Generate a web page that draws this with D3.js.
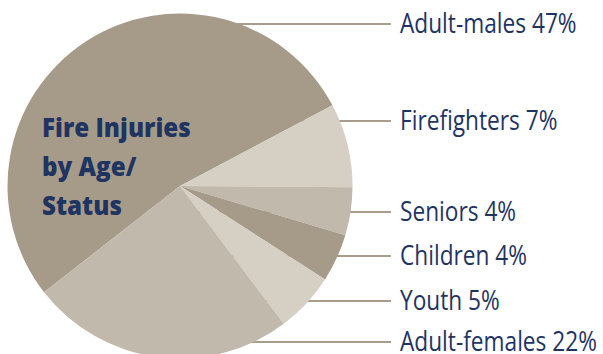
<!DOCTYPE html>
<html>
<head>
<meta charset="utf-8">
<script src="https://cdn.jsdelivr.net/npm/d3@7"></script>
<style>
  html, body { margin: 0; padding: 0; background: #ffffff; }
  svg { display: block; }
</style>
</head>
<body>
<svg id="chart" width="603" height="354"></svg>
<script>
// Fire injuries by age / status (percent of total)
const categories = ["Adult-males", "Firefighters", "Seniors", "Children", "Youth", "Adult-females"];
const shares = [47, 7, 4, 4, 5, 22];
const titleLines = ["Fire Injuries", "by Age/", "Status"];

// Layout
const W = 603, H = 354;
const cx = 180, cy = 186, radius = 172.5;
const labelRows = [24, 121, 212, 256, 301, 342]; // y of each leader line
const lineEndX = 391, labelX = 400;
const condense = 0.84;      // horizontal squeeze for the narrow label face
const titleCondense = 0.93;
const textColor = "#1f3461";
const lineColor = "#a89d8b";
const sliceColors = ["#a69b89", "#d5cfc4", "#c1b9ab", "#a69b89", "#d5cfc4", "#c1b9ab"];

const svg = d3.select("#chart");

const rows = categories.map((c, i) => ({ name: c, value: shares[i], y: labelRows[i], color: sliceColors[i] }));

// Leader lines run from the centre out to the labels; the pie covers the inner part
svg.append("g")
  .selectAll("line")
  .data(rows)
  .join("line")
  .attr("x1", cx)
  .attr("x2", lineEndX)
  .attr("y1", d => d.y)
  .attr("y2", d => d.y)
  .attr("stroke", lineColor)
  .attr("stroke-width", 2);

// Pie
const start = -128 * Math.PI / 180;
const pie = d3.pie()
  .value(d => d.value)
  .sort(null)
  .startAngle(start)
  .endAngle(start + 2 * Math.PI);
const arc = d3.arc().innerRadius(0).outerRadius(radius);

svg.append("g")
  .attr("transform", `translate(${cx},${cy})`)
  .selectAll("path")
  .data(pie(rows))
  .join("path")
  .attr("d", arc)
  .attr("fill", d => d.data.color);

// Category labels
const fmt = d => `${d.name} ${d.value}%`;
svg.append("g")
  .selectAll("text")
  .data(rows)
  .join("text")
  .attr("transform", d => `translate(${labelX},${d.y + 9}) scale(${condense},1)`)
  .attr("font-family", "'Open Sans', 'Noto Sans', sans-serif")
  .attr("font-size", 27)
  .attr("fill", textColor)
  .text(fmt);

// Title inside the largest slice
svg.append("g")
  .selectAll("text")
  .data(titleLines)
  .join("text")
  .attr("transform", (d, i) => `translate(42,${137 + i * 39}) scale(${titleCondense},1)`)
  .attr("font-family", "'Open Sans', 'Noto Sans', sans-serif")
  .attr("font-weight", 800)
  .attr("font-size", 26)
  .attr("fill", textColor)
  .text(d => d);
</script>
</body>
</html>
